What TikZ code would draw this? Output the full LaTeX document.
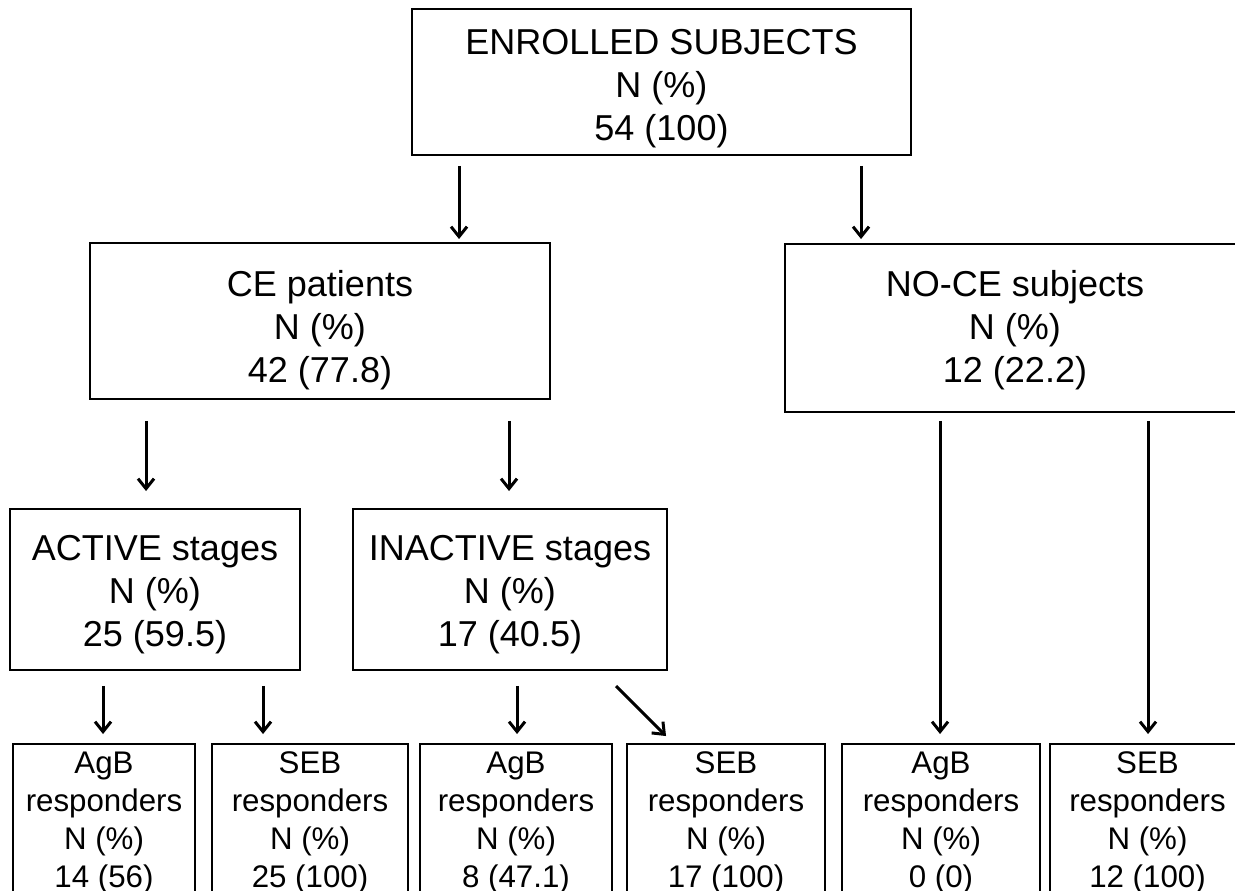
\documentclass[tikz,border=0pt]{standalone}
\usepackage{fontspec}
\setmainfont{Liberation Sans}
\usepackage{tikz}
\usetikzlibrary{arrows.meta}

\begin{document}
\begin{tikzpicture}[
    box/.style={draw,line width=1.1pt,align=center,inner sep=0pt,
      font=\fontsize{20.5}{24.5}\selectfont},
    resp/.style={draw,line width=1.1pt,align=center,inner sep=0pt,
      minimum height=3.04cm,text height=81pt,font=\fontsize{17.8}{21.8}\selectfont},
    arr/.style={line width=1.7pt,-{Straight Barb[length=0.2cm,width=0.32cm]}}]
    \useasboundingbox (0,0) rectangle (24.7,-17.8);
    \clip (0,0) rectangle (24.7,-17.8);
    \node[box,minimum width=9.98cm,minimum height=2.92cm,text height=70.5pt] (enr) at (13.23,-1.64)
      {ENROLLED SUBJECTS\\N (\%)\\54 (100)};
    \node[box,minimum width=9.2cm,minimum height=3.12cm,text height=74pt] (ce) at (6.4,-6.42)
      {CE patients\\N (\%)\\42 (77.8)};
    \node[box,minimum width=9.2cm,minimum height=3.36cm,text height=66.7pt] (noce) at (20.3,-6.56)
      {NO-CE subjects\\N (\%)\\12 (22.2)};
    \node[box,minimum width=5.8cm,minimum height=3.22cm,text height=69.5pt] (act) at (3.1,-11.79)
      {ACTIVE stages\\N (\%)\\25 (59.5)};
    \node[box,minimum width=6.28cm,minimum height=3.22cm,text height=69.5pt] (inact) at (10.2,-11.79)
      {INACTIVE stages\\N (\%)\\17 (40.5)};
    \node[resp,minimum width=3.64cm] (agbA) at (2.08,-16.4)
      {AgB\\responders\\N (\%)\\14 (56)};
    \node[resp,minimum width=3.92cm] (sebA) at (6.2,-16.4)
      {SEB\\responders\\N (\%)\\25 (100)};
    \node[resp,minimum width=3.84cm] (agbI) at (10.32,-16.4)
      {AgB\\responders\\N (\%)\\8 (47.1)};
    \node[resp,minimum width=3.96cm] (sebI) at (14.52,-16.4)
      {SEB\\responders\\N (\%)\\17 (100)};
    \node[resp,minimum width=3.96cm] (agbN) at (18.82,-16.4)
      {AgB\\responders\\N (\%)\\0 (0)};
    \node[resp,minimum width=3.9cm] (sebN) at (22.95,-16.4)
      {SEB\\responders\\N (\%)\\12 (100)};
    \draw[arr,shorten >=0.06cm] (enr.south west) ++(0.96,-0.2) coordinate (e1) -- (e1 |- ce.north);
    \draw[arr,shorten >=0.08cm] (enr.south west) ++(9.0,-0.2) coordinate (e2) -- (e2 |- noce.north);
    \draw[arr,shorten >=0.34cm] (ce.south west) ++(1.14,-0.42) coordinate (c1) -- (c1 |- act.north);
    \draw[arr,shorten >=0.34cm] (ce.south west) ++(8.4,-0.42) coordinate (c2) -- (c2 |- inact.north);
    \draw[arr,shorten >=0.18cm] (noce.south west) ++(3.12,-0.16) coordinate (n1) -- (n1 |- agbN.north);
    \draw[arr,shorten >=0.18cm] (noce.south west) ++(7.28,-0.16) coordinate (n2) -- (n2 |- sebN.north);
    \draw[arr,shorten >=0.18cm] (act.south west) ++(1.88,-0.3) coordinate (a1) -- (a1 |- agbA.north);
    \draw[arr,shorten >=0.18cm] (act.south west) ++(5.08,-0.3) coordinate (a2) -- (a2 |- sebA.north);
    \draw[arr,shorten >=0.18cm] (inact.south west) ++(3.3,-0.3) coordinate (i1) -- (i1 |- agbI.north);
    \draw[arr] (inact.south west) ++(5.28,-0.3) -- ([shift={(0.8,0.14)}]sebI.north west);
\end{tikzpicture}
\end{document}
